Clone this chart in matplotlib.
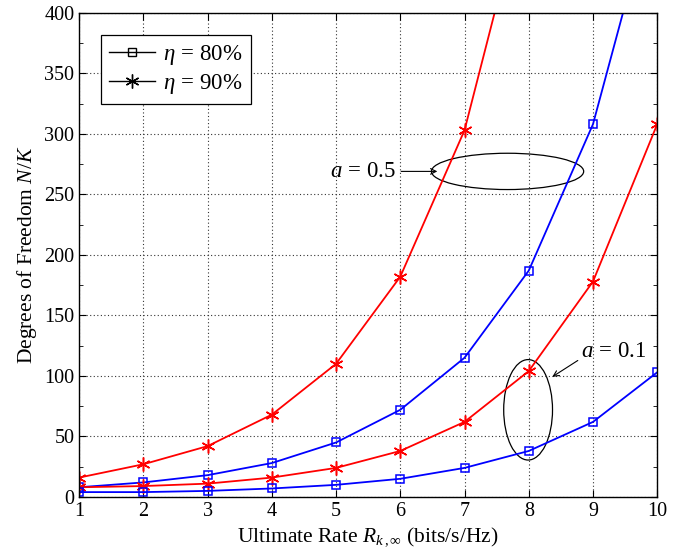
import matplotlib
matplotlib.use("Agg")
import matplotlib.pyplot as plt
from matplotlib.patches import Ellipse
from matplotlib.lines import Line2D

plt.rcParams['font.family'] = ['Liberation Serif', 'DejaVu Serif']
plt.rcParams['mathtext.fontset'] = 'custom'
plt.rcParams['mathtext.rm'] = 'Liberation Serif'
plt.rcParams['mathtext.it'] = 'Liberation Serif:italic'

# data
rate = [1, 2, 3, 4, 5, 6, 7, 8, 9, 10]
red_a05 = [16, 27, 42, 68, 110, 182, 303, 510]
blue_a05 = [8, 12, 18, 28, 45, 72, 115, 187, 308, 505]
red_a01 = [8, 9, 11, 16, 24, 38, 62, 104, 178, 308]
blue_a01 = [4, 4, 5, 7, 10, 15, 24, 38, 62, 103]

star = (6, 2, 0)

fig = plt.figure(figsize=(6.94, 5.59), dpi=100)
ax = fig.add_axes([0.114, 0.111, 0.833, 0.866])

ax.plot(rate[:len(red_a05)], red_a05, color='red', lw=1.3, marker=star, ms=10, mew=1.1)
ax.plot(rate, blue_a05, color='blue', lw=1.3, marker='s', ms=6, mfc='none', mew=1.1)
ax.plot(rate, red_a01, color='red', lw=1.3, marker=star, ms=10, mew=1.1)
ax.plot(rate, blue_a01, color='blue', lw=1.3, marker='s', ms=6, mfc='none', mew=1.1)

ax.set_xlim(1, 10)
ax.set_ylim(0, 400)
ax.set_xticks(range(1, 11))
ax.set_yticks(range(0, 401, 50))
ax.set_yticks(range(0, 401, 25), minor=True)
ax.grid(True, which='major', linestyle=(0, (1, 2.2)), color='#333333', lw=0.8)
ax.tick_params(direction='in', top=True, right=True, labelsize=14.5, length=5)
ax.tick_params(which='minor', direction='in', right=True, length=3)
for s in ax.spines.values():
    s.set_linewidth(1.0)

ax.set_xlabel(r'Ultimate Rate $R_{k\,,\infty}$ (bits/s/Hz)', fontsize=15.5, labelpad=3)
ax.set_ylabel(r'Degrees of Freedom $N/K$', fontsize=15.5, labelpad=4)

# annotations
ax.add_patch(Ellipse((7.67, 269), 2.37, 30, fill=False, ec='black', lw=0.9))
ax.annotate('', xy=(6.62, 269), xytext=(5.97, 269),
            arrowprops=dict(arrowstyle='->', color='black', lw=0.8))
ax.text(5.93, 269, r'$a\,=\,0.5$', fontsize=16.5, ha='right', va='center')

ax.add_patch(Ellipse((7.99, 72), 0.76, 83, fill=False, ec='black', lw=0.9))
ax.annotate('', xy=(8.33, 98), xytext=(8.8, 114),
            arrowprops=dict(arrowstyle='->', color='black', lw=0.8))
ax.text(8.82, 120, r'$a\,=\,0.1$', fontsize=16.5, ha='left', va='center')

handles = [Line2D([], [], color='black', lw=1.0, marker='s', ms=6, mfc='none'),
           Line2D([], [], color='black', lw=1.0, marker=star, ms=10)]
leg = ax.legend(handles, [r'$\eta\,=\,80\%$', r'$\eta\,=\,90\%$'], loc='upper left',
                fontsize=16.5, fancybox=False, edgecolor='black', framealpha=1,
                handlelength=2.0, handletextpad=0.35, borderaxespad=0.97,
                labelspacing=0.22, borderpad=0.35)
leg.get_frame().set_linewidth(0.9)

fig.savefig('out.png', dpi=100)
